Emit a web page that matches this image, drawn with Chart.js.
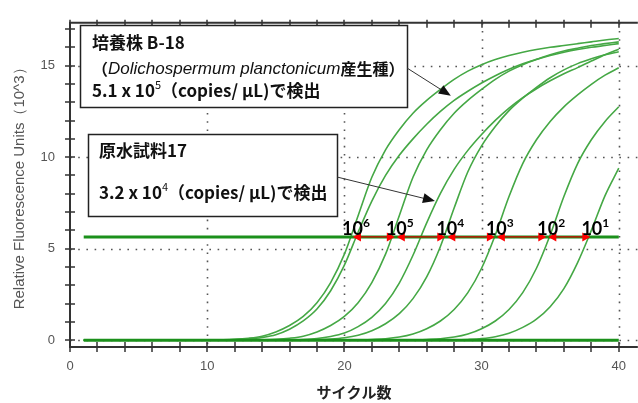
<!DOCTYPE html>
<html>
<head>
<meta charset="utf-8">
<script src="https://cdn.jsdelivr.net/npm/chart.js@4.4.1/dist/chart.umd.min.js"></script>
<style>
  html, body { margin: 0; padding: 0; background: #fff; }
</style>
</head>
<body>
<canvas id="pcr" width="638" height="403"></canvas>
<script>
// cycle numbers (x axis)
const cycles = [1, 2, 3, 4, 5, 6, 7, 8, 9, 10, 11, 12, 13, 14, 15, 16, 17, 18, 19, 20,
                21, 22, 23, 24, 25, 26, 27, 28, 29, 30, 31, 32, 33, 34, 35, 36, 37, 38, 39, 40];

// RFU (x10^3)
const std1e6 = [0, 0, 0, 0, 0, 0, 0, 0, 0, 0,
  0.02, 0.05, 0.11, 0.22, 0.45, 0.8, 1.3, 2.05, 3.15, 4.7,
  6.8, 8.9, 10.4, 11.5, 12.4, 13.1, 13.7, 14.25, 14.7, 15.05,
  15.33, 15.55, 15.73, 15.88, 16.0, 16.1, 16.2, 16.3, 16.4, 16.48];
const sampleB18 = [0, 0, 0, 0, 0, 0, 0, 0, 0, 0,
  0.01, 0.03, 0.07, 0.15, 0.3, 0.6, 1.05, 1.7, 2.7, 4.1,
  5.9, 7.6, 9.0, 10.1, 11.0, 11.8, 12.5, 13.1, 13.6, 14.05,
  14.45, 14.8, 15.1, 15.35, 15.6, 15.8, 15.95, 16.1, 16.2, 16.3];
const std1e5 = [0, 0, 0, 0, 0, 0, 0, 0, 0, 0,
  0, 0, 0, 0.02, 0.05, 0.11, 0.22, 0.45, 0.8, 1.3,
  2.05, 3.15, 4.7, 6.8, 8.9, 10.4, 11.5, 12.4, 13.1, 13.7,
  14.25, 14.7, 15.05, 15.33, 15.55, 15.73, 15.88, 16.0, 16.1, 16.2];
const sampleRaw17 = [0, 0, 0, 0, 0, 0, 0, 0, 0, 0,
  0, 0, 0, 0, 0, 0.02, 0.04, 0.09, 0.2, 0.39,
  0.74, 1.25, 2.0, 3.12, 4.64, 6.41, 8.02, 9.33, 10.37, 11.24,
  12.01, 12.68, 13.25, 13.74, 14.17, 14.56, 14.89, 15.25, 15.6, 15.9];
const std1e4 = [0, 0, 0, 0, 0, 0, 0, 0, 0, 0,
  0, 0, 0, 0, 0, 0, 0, 0.03, 0.06, 0.13,
  0.27, 0.52, 0.9, 1.45, 2.27, 3.46, 5.12, 7.22, 9.2, 10.62,
  11.68, 12.54, 13.22, 13.81, 14.34, 14.77, 15.11, 15.37, 15.59, 15.76];
const std1e3 = [0, 0, 0, 0, 0, 0, 0, 0, 0, 0,
  0, 0, 0, 0, 0, 0, 0, 0, 0, 0,
  0.01, 0.04, 0.08, 0.17, 0.34, 0.63, 1.05, 1.68, 2.6, 3.93,
  5.75, 7.85, 9.65, 10.95, 11.95, 12.75, 13.4, 13.98, 14.48, 14.88];
const std1e2 = [0, 0, 0, 0, 0, 0, 0, 0, 0, 0,
  0, 0, 0, 0, 0, 0, 0, 0, 0, 0,
  0, 0, 0, 0, 0.01, 0.04, 0.08, 0.17, 0.34, 0.63,
  1.05, 1.68, 2.6, 3.93, 5.75, 7.85, 9.65, 10.95, 11.95, 12.75];
const std1e1 = [0, 0, 0, 0, 0, 0, 0, 0, 0, 0,
  0, 0, 0, 0, 0, 0, 0, 0, 0, 0,
  0, 0, 0, 0, 0, 0, 0, 0.01, 0.04, 0.09,
  0.19, 0.38, 0.7, 1.15, 1.83, 2.82, 4.24, 6.0, 7.9, 9.4];
const negative = [0, 0, 0, 0, 0, 0, 0, 0, 0, 0,
  0, 0, 0, 0, 0, 0, 0, 0, 0, 0,
  0, 0, 0, 0, 0, 0, 0, 0, 0, 0,
  0, 0, 0, 0, 0, 0, 0, 0, 0, 0];

const threshold = 5.64;
const thresholdCycles = [1, 40];

// Ct of the standards on the threshold, and their copy-number exponents
const stdCt = [20.55, 23.75, 27.43, 31.04, 34.79, 38.0];
const stdExp = ['6', '5', '4', '3', '2', '1'];

// callout tips (cycle, RFU)
const calloutTips = [[27.76, 13.35], [26.6, 7.6]];

const xTicks = [0, 10, 20, 30, 40];

const jp = '"Noto Sans CJK JP", sans-serif';
const curveColor = '#45a845';
const lineColor = '#1b901b';

const toXY = (vals) => vals.map((v, i) => ({x: cycles[i], y: v}));

const curve = (vals) => ({
  data: toXY(vals),
  borderColor: curveColor,
  borderWidth: 1.6,
  pointRadius: 0,
  cubicInterpolationMode: 'monotone',
  fill: false
});

// text runs with superscripts
function drawRuns(ctx, x, y, runs) {
  for (let r of runs) {
    ctx.font = r.font;
    ctx.fillText(r.t, x, y + (r.dy || 0));
    x += ctx.measureText(r.t).width;
  }
}

function arrowHead(ctx, x, y, ang, len, half) {
  ctx.beginPath();
  ctx.moveTo(x, y);
  ctx.lineTo(x - len * Math.cos(ang) + half * Math.sin(ang), y - len * Math.sin(ang) - half * Math.cos(ang));
  ctx.lineTo(x - len * Math.cos(ang) - half * Math.sin(ang), y - len * Math.sin(ang) + half * Math.cos(ang));
  ctx.closePath();
  ctx.fill();
}

const frame = {
  id: 'frame',
  beforeDatasetsDraw(chart) {
    const {ctx, chartArea: a, scales: {x, y}} = chart;
    ctx.save();
    ctx.strokeStyle = '#555';
    ctx.lineWidth = 1.6;
    ctx.setLineDash([1.6, 6.6]);
    for (let v of [10, 20, 30, 40]) {
      const px = Math.round(x.getPixelForValue(v)) + 0.5;
      ctx.beginPath(); ctx.moveTo(px, a.top); ctx.lineTo(px, a.bottom); ctx.stroke();
    }
    for (let v of [0, 5, 10, 15]) {
      const py = Math.round(y.getPixelForValue(v)) + 0.5;
      ctx.beginPath(); ctx.moveTo(a.left, py); ctx.lineTo(a.right, py); ctx.stroke();
    }
    ctx.restore();
  },
  afterDatasetsDraw(chart) {
    const {ctx, chartArea: a, scales: {x, y}} = chart;
    ctx.save();
    ctx.strokeStyle = '#333';
    ctx.lineWidth = 2;
    ctx.beginPath();
    ctx.moveTo(a.right, a.top); ctx.lineTo(a.left, a.top);
    ctx.lineTo(a.left, a.bottom); ctx.lineTo(a.right, a.bottom);
    ctx.stroke();
    ctx.lineWidth = 1.5;
    ctx.beginPath();
    for (let v = 0; v <= 40; v += 2) {
      const px = Math.round(x.getPixelForValue(v));
      ctx.moveTo(px, a.bottom - 5); ctx.lineTo(px, a.bottom + 5);
      ctx.moveTo(px, a.top - 3); ctx.lineTo(px, a.top + 5);
    }
    for (let v = 0; v <= 17; v++) {
      const py = Math.round(y.getPixelForValue(v));
      ctx.moveTo(a.left - 5, py); ctx.lineTo(a.left + 5, py);
    }
    ctx.stroke();

    // red arrows between standard Cts on the threshold
    const ty = y.getPixelForValue(threshold);
    ctx.strokeStyle = '#d80000';
    ctx.fillStyle = '#ff0000';
    ctx.lineWidth = 1.2;
    for (let i = 0; i < stdCt.length - 1; i++) {
      const x1 = x.getPixelForValue(stdCt[i]) + 1;
      const x2 = x.getPixelForValue(stdCt[i + 1]) - 1;
      ctx.beginPath(); ctx.moveTo(x1 + 4, ty); ctx.lineTo(x2 - 4, ty); ctx.stroke();
      arrowHead(ctx, x1, ty, Math.PI, 8, 4.5);
      arrowHead(ctx, x2, ty, 0, 8, 4.5);
    }
    // 10^n labels
    ctx.fillStyle = '#000';
    ctx.textBaseline = 'alphabetic';
    const bigF = 'bold 18px Lato', supF = 'bold 12px Lato';
    for (let i = 0; i < stdCt.length; i++) {
      ctx.font = bigF;
      const w1 = ctx.measureText('10').width;
      ctx.font = supF;
      const w2 = ctx.measureText(stdExp[i]).width;
      const cx = x.getPixelForValue(stdCt[i]) + 4;
      drawRuns(ctx, cx - (w1 + w2) / 2, ty - 2, [
        {t: '10', font: bigF},
        {t: stdExp[i], font: supF, dy: -8}
      ]);
    }

    // callout boxes
    const boxes = [[80, 25, 327, 82], [88, 134, 249, 82]];
    ctx.lineWidth = 1.5;
    ctx.strokeStyle = '#222';
    for (let b of boxes) {
      ctx.fillStyle = '#fff';
      ctx.fillRect(b[0], b[1], b[2], b[3]);
      ctx.strokeRect(b[0] + 0.5, b[1] + 0.5, b[2], b[3]);
    }
    ctx.fillStyle = '#111';
    ctx.textBaseline = 'middle';
    const jb = 'bold 16px ' + jp;
    const lb = 'bold 17px ' + jp;
    drawRuns(ctx, 92, 43, [{t: '培養株 B-18', font: 'bold 17px ' + jp}]);
    drawRuns(ctx, 92, 69, [
      {t: '（', font: jb},
      {t: 'Dolichospermum planctonicum', font: 'italic 17px "Liberation Sans"'},
      {t: '産生種）', font: jb}
    ]);
    drawRuns(ctx, 92, 91, [
      {t: '5.1 x 10', font: lb},
      {t: '5', font: '11px ' + jp, dy: -6},
      {t: '（copies/ μL)で検出', font: lb}
    ]);
    drawRuns(ctx, 99, 151, [{t: '原水試料17', font: 'bold 17px ' + jp}]);
    drawRuns(ctx, 99, 193, [
      {t: '3.2 x 10', font: lb},
      {t: '4', font: '11px ' + jp, dy: -6},
      {t: '（copies/ μL)で検出', font: lb}
    ]);

    // callout arrows
    const starts = [[407, 68], [337, 177]];
    ctx.strokeStyle = '#333';
    ctx.fillStyle = '#111';
    ctx.lineWidth = 1;
    calloutTips.forEach((tip, i) => {
      const tx = x.getPixelForValue(tip[0]), tyy = y.getPixelForValue(tip[1]);
      const [sx, sy] = starts[i];
      const ang = Math.atan2(tyy - sy, tx - sx);
      ctx.beginPath(); ctx.moveTo(sx, sy);
      ctx.lineTo(tx - 10 * Math.cos(ang), tyy - 10 * Math.sin(ang)); ctx.stroke();
      arrowHead(ctx, tx, tyy, ang, 12, 5);
    });
    ctx.restore();
  }
};

const tickFont = {family: '"Liberation Sans", Arial, sans-serif', size: 13};

new Chart(document.getElementById('pcr'), {
  type: 'line',
  data: {
    datasets: [
      {data: thresholdCycles.map(c => ({x: c, y: threshold})), borderColor: lineColor, borderWidth: 3, pointRadius: 0},
      {data: toXY(negative), borderColor: lineColor, borderWidth: 3, pointRadius: 0},
      curve(std1e6), curve(sampleB18), curve(std1e5), curve(sampleRaw17),
      curve(std1e4), curve(std1e3), curve(std1e2), curve(std1e1)
    ]
  },
  options: {
    responsive: false,
    animation: false,
    layout: {padding: {top: 14, right: 0, bottom: 0, left: 0}},
    plugins: {legend: {display: false}, tooltip: {enabled: false}},
    scales: {
      x: {
        type: 'linear', min: 0, max: 41.39,
        afterBuildTicks: s => { s.ticks = xTicks.map(v => ({value: v})); },
        ticks: {padding: 12, color: '#555', font: tickFont, maxRotation: 0},
        grid: {display: false, drawTicks: false},
        border: {display: false},
        title: {display: true, text: 'サイクル数', color: '#222',
                font: {family: jp, size: 15, weight: 'bold'}, padding: {top: 0, bottom: 2}},
        afterFit: s => { s.height = 56; }
      },
      y: {
        min: -0.372, max: 17.34,
        ticks: {stepSize: 5, includeBounds: false, padding: 15, color: '#555', font: tickFont},
        grid: {display: false, drawTicks: false},
        border: {display: false},
        title: {display: true, text: 'Relative Fluorescence Units（10^3）', color: '#555',
                font: {family: '"Liberation Sans", Arial, sans-serif', size: 15}, padding: {top: 11, bottom: 0}},
        afterFit: s => { s.width = 70; }
      }
    }
  },
  plugins: [frame]
});
</script>
</body>
</html>
